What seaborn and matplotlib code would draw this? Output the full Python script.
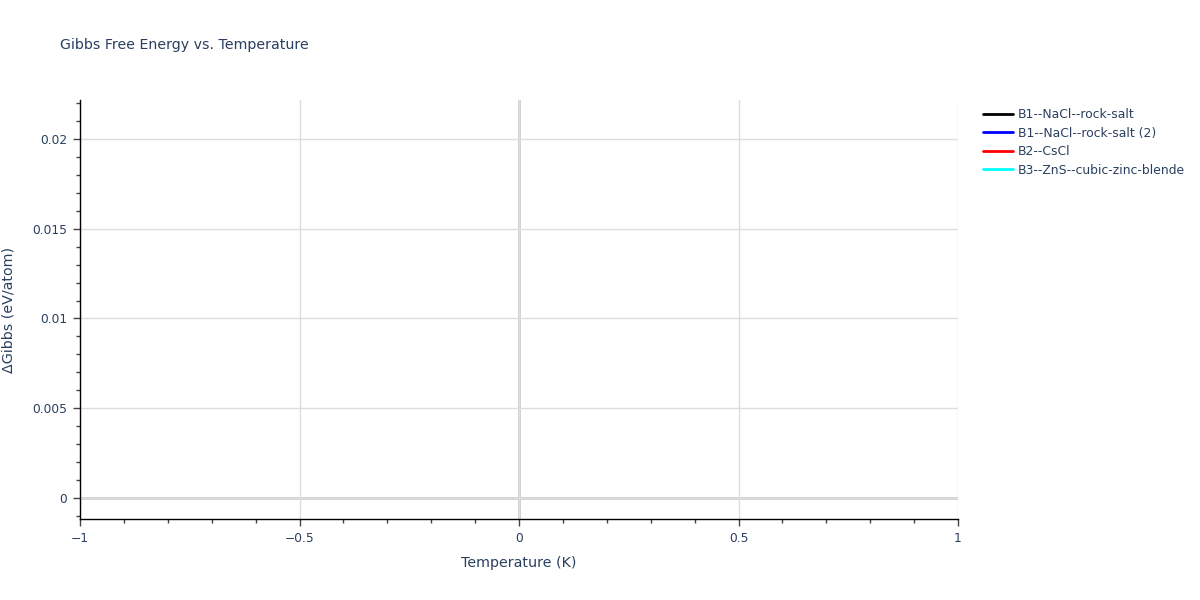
import matplotlib
matplotlib.use("Agg")
import matplotlib.pyplot as plt
from matplotlib.ticker import MultipleLocator, FuncFormatter
import seaborn as sns
import pandas as pd

# Data: every phase has only the reference point at T=0, dG=0
phases = ["B1--NaCl--rock-salt", "B1--NaCl--rock-salt (2)", "B2--CsCl",
          "B3--ZnS--cubic-zinc-blende"]
colors = ["black", "blue", "red", "cyan"]
temperature = [0, 0, 0, 0]
d_gibbs = [0.0, 0.0, 0.0, 0.0]

df = pd.DataFrame({"phase": phases, "T": temperature, "dG": d_gibbs})

txt = "#2a3f5f"
sns.set_theme(style="white")
plt.rcParams["font.family"] = ["DejaVu Sans"]

fig = plt.figure(figsize=(12, 6), dpi=100)
ax = fig.add_axes([80 / 1200, 1 - 519 / 600, 878 / 1200, 419 / 600])

sns.lineplot(data=df, x="T", y="dG", hue="phase", palette=colors,
             hue_order=phases, ax=ax, linewidth=2)

ax.set_xlim(-1, 1)
ax.set_ylim(-0.00117, 0.02217)

ax.xaxis.set_major_locator(MultipleLocator(0.5))
ax.xaxis.set_minor_locator(MultipleLocator(0.1))
ax.yaxis.set_major_locator(MultipleLocator(0.005))
ax.yaxis.set_minor_locator(MultipleLocator(0.001))

def fmt(v, pos):
    if abs(v) < 1e-12:
        return "0"
    s = f"{v:g}"
    return s.replace("-", "\u2212")

ax.xaxis.set_major_formatter(FuncFormatter(fmt))
ax.yaxis.set_major_formatter(FuncFormatter(fmt))

ax.grid(True, which="major", color="#dedede", linewidth=1)
ax.axhline(0, color="#cccccc", linewidth=2, zorder=0.5)
ax.axvline(0, color="#cccccc", linewidth=2, zorder=0.5)
ax.set_axisbelow(True)

for side in ["top", "right"]:
    ax.spines[side].set_visible(False)
for side in ["left", "bottom"]:
    ax.spines[side].set_color("black")
    ax.spines[side].set_linewidth(1)

ax.tick_params(axis="both", which="major", direction="out", length=5,
               width=1, color="#444444", labelcolor=txt, labelsize=8.8, pad=4)
ax.tick_params(axis="both", which="minor", direction="out", length=3,
               width=1, color="#444444")
ax.tick_params(axis="x", which="both", bottom=True)
ax.tick_params(axis="y", which="both", left=True)

ax.set_xlabel("Temperature (K)", color=txt, fontsize=10.3, labelpad=8)
ax.set_ylabel("\u0394Gibbs (eV/atom)", color=txt, fontsize=10.3, labelpad=12)

fig.text(60 / 1200, 1 - 45 / 600, "Gibbs Free Energy vs. Temperature",
         color=txt, fontsize=10.2, va="center", ha="left")

leg = ax.legend(loc="upper left", bbox_to_anchor=(1.024, 0.99), frameon=False,
                fontsize=8.95, handlelength=2.4, handletextpad=0.45,
                labelspacing=0.45, borderaxespad=0, borderpad=0.3)
for t in leg.get_texts():
    t.set_color(txt)

fig.savefig("out.png", dpi=100)
